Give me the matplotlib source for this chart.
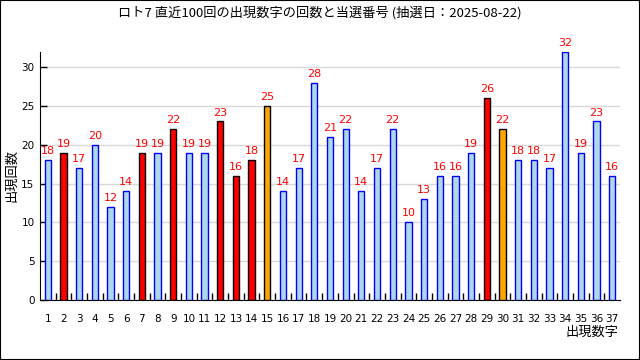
import matplotlib
matplotlib.use("Agg")
import matplotlib.pyplot as plt
from matplotlib.patches import Rectangle

plt.rcParams['font.family'] = ['Noto Sans CJK JP', 'DejaVu Sans']

numbers = list(range(1, 38))
counts = [18, 19, 17, 20, 12, 14, 19, 19, 22, 19, 19, 23, 16, 18, 25, 14, 17, 28, 21, 22,
          14, 17, 22, 10, 13, 16, 16, 19, 26, 22, 18, 18, 17, 32, 19, 23, 16]
main_numbers = [2, 7, 9, 12, 13, 14, 29]
bonus_numbers = [15, 30]
title = "ロト7 直近100回の出現数字の回数と当選番号 (抽選日：2025-08-22)"

fills, edges = [], []
for n in numbers:
    if n in main_numbers:
        fills.append('red'); edges.append('black')
    elif n in bonus_numbers:
        fills.append('orange'); edges.append('black')
    else:
        fills.append('lightblue'); edges.append('blue')

fig = plt.figure(figsize=(6.4, 3.6), dpi=100)
ax = fig.add_axes([0.0625, 0.1667, 0.90625, 0.690])
ax.bar(numbers, counts, width=0.4, color=fills, edgecolor=edges, linewidth=1, zorder=3)
for n, c in zip(numbers, counts):
    ax.text(n, c + 0.5, str(c), ha='center', va='bottom', color='red', fontsize=8,
            family='DejaVu Sans', zorder=4)

ax.set_xlim(0.5, 37.5)
ax.set_ylim(0, 32)
ax.set_yticks(range(0, 31, 5))
ax.yaxis.grid(True, color='#d9d9d9', linewidth=1, zorder=0)
ax.set_axisbelow(True)
ax.set_xticks(numbers)
ax.set_xticklabels([str(n) for n in numbers], family='DejaVu Sans')
ax.set_xticks([n + 0.5 for n in numbers[:-1]], minor=True)
ax.tick_params(axis='x', which='major', length=0, labelsize=7.5, pad=10)
ax.tick_params(axis='x', which='minor', direction='in', length=5, width=1)
ax.tick_params(axis='y', direction='in', length=5, width=1, labelsize=7.5, pad=4)
for lab in ax.get_yticklabels():
    lab.set_family('DejaVu Sans')
for s in ['top', 'right']:
    ax.spines[s].set_visible(False)
ax.set_ylabel("出現回数", fontsize=9.5, va='center')
ax.yaxis.set_label_coords(-0.048, 0.5)
ax.set_xlabel("出現数字", fontsize=9.5, ha='right', va='center')
ax.xaxis.set_label_coords(0.9966, -0.129)
fig.text(0.5, 1 - 13 / 360, title, fontsize=9.5, ha='center', va='center')

fig.patches.append(Rectangle((0, 0), 1, 1, transform=fig.transFigure, fill=False,
                             edgecolor='black', linewidth=1.5))
fig.savefig("out.png", dpi=100)
